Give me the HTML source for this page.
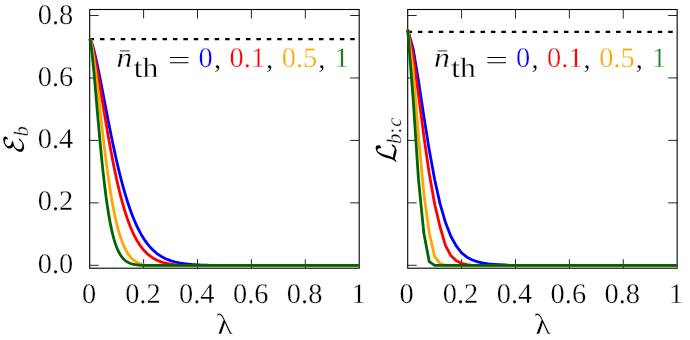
<!DOCTYPE html>
<html><head><meta charset="utf-8"><title>plot</title>
<style>
html,body{margin:0;padding:0;background:#fff;}
body{width:690px;height:340px;overflow:hidden;}
text{stroke:#fff;stroke-width:0.3px;}
svg{display:block;will-change:transform;text-rendering:geometricPrecision;font-family:"Liberation Serif",serif;}
</style></head><body>
<svg width="690" height="340" viewBox="0 0 690 340">
<rect width="690" height="340" fill="#fff"/>
<path d="M143.60 268.20v-9M143.60 9.50v9M197.50 268.20v-9M197.50 9.50v9M251.40 268.20v-9M251.40 9.50v9M305.30 268.20v-9M305.30 9.50v9M89.70 265.30h9M359.20 265.30h-9M89.70 202.85h9M359.20 202.85h-9M89.70 140.40h9M359.20 140.40h-9M89.70 77.95h9M359.20 77.95h-9M89.70 15.50h9M359.20 15.50h-9" fill="none" stroke="#000" stroke-width="0.85"/>
<rect x="89.70" y="9.50" width="269.50" height="258.70" fill="none" stroke="#000" stroke-width="1.1"/>
<g fill="none" stroke-width="2.8" stroke-linejoin="round">
<path d="M89.50 39.20 H358.70" stroke="#000" stroke-width="2.3" stroke-dasharray="4.5 5.93"/>
<path d="M89.70 38.90 L90.37 39.71 L91.05 41.12 L91.72 42.90 L92.39 44.95 L93.07 47.23 L93.74 49.70 L94.42 52.34 L95.09 55.11 L95.76 58.02 L96.44 61.03 L97.11 64.13 L97.78 67.32 L98.46 70.57 L99.13 73.89 L99.81 77.25 L100.48 80.66 L101.15 84.11 L101.83 87.58 L102.50 91.07 L103.18 94.57 L103.85 98.08 L104.52 101.60 L105.20 105.11 L105.87 108.61 L106.54 112.11 L107.22 115.59 L107.89 119.04 L108.56 122.48 L109.24 125.89 L109.91 129.27 L110.59 132.62 L111.26 135.93 L111.93 139.21 L112.61 142.45 L113.28 145.65 L113.95 148.80 L114.63 151.91 L115.30 154.98 L115.98 157.99 L116.65 160.96 L117.32 163.88 L118.00 166.75 L118.67 169.57 L119.34 172.34 L120.02 175.05 L120.69 177.71 L121.37 180.32 L122.04 182.88 L122.71 185.38 L123.39 187.83 L124.06 190.23 L124.74 192.57 L125.41 194.86 L126.08 197.10 L126.76 199.28 L127.43 201.41 L128.10 203.49 L128.78 205.52 L129.45 207.50 L130.12 209.42 L130.80 211.30 L131.47 213.13 L132.15 214.90 L132.82 216.64 L133.49 218.32 L134.17 219.95 L134.84 221.54 L135.52 223.09 L136.19 224.59 L136.86 226.05 L137.54 227.46 L138.21 228.83 L138.88 230.17 L139.56 231.46 L140.23 232.71 L140.91 233.92 L141.58 235.10 L142.25 236.23 L142.93 237.33 L143.60 238.40 L144.27 239.43 L144.95 240.43 L145.62 241.39 L146.30 242.33 L146.97 243.23 L147.64 244.10 L148.32 244.94 L148.99 245.76 L149.66 246.54 L150.34 247.30 L151.01 248.03 L151.69 248.73 L152.36 249.41 L153.03 250.07 L153.71 250.70 L154.38 251.31 L155.05 251.90 L155.73 252.46 L156.40 253.01 L157.07 253.53 L157.75 254.03 L158.42 254.52 L159.10 254.99 L159.77 255.44 L160.44 255.87 L161.12 256.28 L161.79 256.68 L162.47 257.06 L163.14 257.43 L163.81 257.79 L164.49 258.13 L165.16 258.45 L165.83 258.77 L166.51 259.07 L167.18 259.35 L167.86 259.63 L168.53 259.90 L169.20 260.15 L169.88 260.39 L170.55 260.63 L171.22 260.85 L171.90 261.07 L172.57 261.27 L173.25 261.47 L173.92 261.66 L174.59 261.84 L175.27 262.01 L175.94 262.18 L176.61 262.33 L177.29 262.48 L177.96 262.63 L178.63 262.77 L179.31 262.90 L179.98 263.03 L180.66 263.15 L181.33 263.26 L182.00 263.37 L182.68 263.48 L183.35 263.58 L184.03 263.67 L184.70 263.76 L185.37 263.85 L186.05 263.93 L186.72 264.01 L187.39 264.09 L188.07 264.16 L188.74 264.23 L189.42 264.30 L190.09 264.36 L190.76 264.42 L191.44 264.48 L192.11 264.53 L192.78 264.58 L193.46 264.63 L194.13 264.68 L194.81 264.72 L195.48 264.76 L196.15 264.80 L196.83 264.84 L197.50 264.88 L198.17 264.91 L198.85 264.95 L199.52 264.98 L200.19 265.01 L200.87 265.04 L201.54 265.06 L202.22 265.09 L202.89 265.11 L203.56 265.14 L204.24 265.16 L204.91 265.18 L205.59 265.20 L206.26 265.22 L206.93 265.23 L207.61 265.25 L208.28 265.27 L208.95 265.28 L209.63 265.30 L210.30 265.30 L358.80 265.30" stroke="#0000ff"/>
<path d="M89.70 38.90 L90.37 39.91 L91.05 41.67 L91.72 43.87 L92.39 46.42 L93.07 49.24 L93.74 52.29 L94.42 55.54 L95.09 58.95 L95.76 62.50 L96.44 66.17 L97.11 69.94 L97.78 73.80 L98.46 77.72 L99.13 81.70 L99.81 85.73 L100.48 89.79 L101.15 93.86 L101.83 97.96 L102.50 102.05 L103.18 106.15 L103.85 110.23 L104.52 114.29 L105.20 118.33 L105.87 122.34 L106.54 126.32 L107.22 130.25 L107.89 134.14 L108.56 137.99 L109.24 141.78 L109.91 145.51 L110.59 149.19 L111.26 152.81 L111.93 156.37 L112.61 159.86 L113.28 163.29 L113.95 166.65 L114.63 169.94 L115.30 173.16 L115.98 176.30 L116.65 179.38 L117.32 182.39 L118.00 185.32 L118.67 188.18 L119.34 190.97 L120.02 193.68 L120.69 196.33 L121.37 198.90 L122.04 201.40 L122.71 203.83 L123.39 206.19 L124.06 208.49 L124.74 210.71 L125.41 212.86 L126.08 214.95 L126.76 216.98 L127.43 218.94 L128.10 220.84 L128.78 222.67 L129.45 224.44 L130.12 226.16 L130.80 227.82 L131.47 229.41 L132.15 230.96 L132.82 232.45 L133.49 233.88 L134.17 235.27 L134.84 236.60 L135.52 237.88 L136.19 239.12 L136.86 240.31 L137.54 241.46 L138.21 242.56 L138.88 243.62 L139.56 244.63 L140.23 245.61 L140.91 246.55 L141.58 247.45 L142.25 248.31 L142.93 249.14 L143.60 249.93 L144.27 250.69 L144.95 251.42 L145.62 252.12 L146.30 252.79 L146.97 253.43 L147.64 254.04 L148.32 254.63 L148.99 255.19 L149.66 255.72 L150.34 256.23 L151.01 256.72 L151.69 257.19 L152.36 257.64 L153.03 258.06 L153.71 258.47 L154.38 258.85 L155.05 259.22 L155.73 259.58 L156.40 259.91 L157.07 260.23 L157.75 260.54 L158.42 260.82 L159.10 261.10 L159.77 261.36 L160.44 261.61 L161.12 261.85 L161.79 262.08 L162.47 262.29 L163.14 262.49 L163.81 262.69 L164.49 262.87 L165.16 263.05 L165.83 263.21 L166.51 263.37 L167.18 263.52 L167.86 263.66 L168.53 263.80 L169.20 263.92 L169.88 264.04 L170.55 264.16 L171.22 264.27 L171.90 264.37 L172.57 264.47 L173.25 264.56 L173.92 264.65 L174.59 264.73 L175.27 264.81 L175.94 264.88 L176.61 264.95 L177.29 265.02 L177.96 265.08 L178.63 265.14 L179.31 265.19 L179.98 265.24 L180.66 265.29 L181.33 265.30 L358.80 265.30" stroke="#ff0000"/>
<path d="M89.70 38.90 L90.37 40.13 L91.05 42.49 L91.72 45.59 L92.39 49.27 L93.07 53.43 L93.74 57.98 L94.42 62.86 L95.09 68.02 L95.76 73.40 L96.44 78.97 L97.11 84.67 L97.78 90.49 L98.46 96.38 L99.13 102.32 L99.81 108.27 L100.48 114.22 L101.15 120.15 L101.83 126.03 L102.50 131.85 L103.18 137.58 L103.85 143.23 L104.52 148.76 L105.20 154.18 L105.87 159.48 L106.54 164.64 L107.22 169.65 L107.89 174.52 L108.56 179.24 L109.24 183.80 L109.91 188.21 L110.59 192.45 L111.26 196.54 L111.93 200.47 L112.61 204.23 L113.28 207.84 L113.95 211.29 L114.63 214.59 L115.30 217.73 L115.98 220.73 L116.65 223.58 L117.32 226.29 L118.00 228.86 L118.67 231.29 L119.34 233.60 L120.02 235.78 L120.69 237.84 L121.37 239.79 L122.04 241.62 L122.71 243.35 L123.39 244.97 L124.06 246.50 L124.74 247.93 L125.41 249.28 L126.08 250.53 L126.76 251.71 L127.43 252.81 L128.10 253.84 L128.78 254.80 L129.45 255.69 L130.12 256.53 L130.80 257.30 L131.47 258.02 L132.15 258.69 L132.82 259.31 L133.49 259.89 L134.17 260.42 L134.84 260.92 L135.52 261.37 L136.19 261.80 L136.86 262.19 L137.54 262.55 L138.21 262.88 L138.88 263.18 L139.56 263.47 L140.23 263.72 L140.91 263.96 L141.58 264.18 L142.25 264.38 L142.93 264.56 L143.60 264.73 L144.27 264.89 L144.95 265.03 L145.62 265.16 L146.30 265.27 L146.97 265.30 L358.80 265.30" stroke="#ffa500"/>
<path d="M89.70 38.90 L90.37 41.24 L91.05 45.40 L91.72 50.64 L92.39 56.66 L93.07 63.26 L93.74 70.31 L94.42 77.67 L95.09 85.26 L95.76 92.99 L96.44 100.80 L97.11 108.61 L97.78 116.39 L98.46 124.07 L99.13 131.64 L99.81 139.04 L100.48 146.26 L101.15 153.28 L101.83 160.07 L102.50 166.61 L103.18 172.91 L103.85 178.94 L104.52 184.72 L105.20 190.22 L105.87 195.45 L106.54 200.42 L107.22 205.13 L107.89 209.57 L108.56 213.76 L109.24 217.70 L109.91 221.40 L110.59 224.87 L111.26 228.12 L111.93 231.15 L112.61 233.98 L113.28 236.61 L113.95 239.05 L114.63 241.32 L115.30 243.42 L115.98 245.36 L116.65 247.15 L117.32 248.81 L118.00 250.33 L118.67 251.73 L119.34 253.01 L120.02 254.19 L120.69 255.27 L121.37 256.26 L122.04 257.16 L122.71 257.99 L123.39 258.74 L124.06 259.42 L124.74 260.04 L125.41 260.60 L126.08 261.11 L126.76 261.58 L127.43 261.99 L128.10 262.37 L128.78 262.71 L129.45 263.02 L130.12 263.30 L130.80 263.55 L131.47 263.77 L132.15 263.97 L132.82 264.15 L133.49 264.32 L134.17 264.46 L134.84 264.59 L135.52 264.71 L136.19 264.81 L136.86 264.90 L137.54 264.98 L138.21 265.06 L138.88 265.12 L139.56 265.18 L140.23 265.23 L140.91 265.28 L141.58 265.30 L358.80 265.30" stroke="#006400"/>
</g>
<path d="M461.59 268.20v-9M461.59 9.50v9M515.48 268.20v-9M515.48 9.50v9M569.37 268.20v-9M569.37 9.50v9M623.26 268.20v-9M623.26 9.50v9M407.70 265.30h9M677.15 265.30h-9M407.70 202.85h9M677.15 202.85h-9M407.70 140.40h9M677.15 140.40h-9M407.70 77.95h9M677.15 77.95h-9M407.70 15.50h9M677.15 15.50h-9" fill="none" stroke="#000" stroke-width="0.85"/>
<rect x="407.70" y="9.50" width="269.45" height="258.70" fill="none" stroke="#000" stroke-width="1.1"/>
<g fill="none" stroke-width="2.8" stroke-linejoin="round">
<path d="M407.50 31.85 H676.65" stroke="#000" stroke-width="2.3" stroke-dasharray="4.5 5.93"/>
<path d="M407.70 29.60 L413.09 48.58 L418.48 80.85 L423.87 116.34 L429.26 150.11 L434.64 179.56 L440.03 203.64 L445.42 222.35 L450.81 236.28 L456.20 245.91 L461.59 252.90 L466.98 257.21 L472.37 259.99 L477.76 261.90 L483.15 263.11 L488.53 263.99 L493.92 264.39 L499.31 264.71 L504.70 264.99 L510.09 265.30 L676.75 265.30" stroke="#0000ff"/>
<path d="M407.70 29.60 L413.09 54.36 L418.48 94.57 L423.87 136.42 L429.26 173.74 L434.64 203.96 L440.03 226.75 L445.42 245.32 L450.81 255.59 L456.20 260.71 L461.59 263.30 L466.98 264.61 L472.37 265.30 L676.75 265.30" stroke="#ff0000"/>
<path d="M407.70 29.60 L413.09 70.04 L418.48 135.86 L423.87 193.85 L429.26 233.04 L434.64 256.59 L440.03 263.30 L445.42 265.30 L676.75 265.30" stroke="#ffa500"/>
<path d="M407.70 29.60 L413.09 98.20 L418.48 179.44 L423.87 233.60 L429.26 261.66 L434.64 265.30 L676.75 265.30" stroke="#006400"/>
</g>
<g font-size="28.4" fill="#000">
<text x="73.2" y="272.58" text-anchor="end">0.0</text>
<text x="73.2" y="210.41" text-anchor="end">0.2</text>
<text x="73.2" y="148.24" text-anchor="end">0.4</text>
<text x="73.2" y="86.07" text-anchor="end">0.6</text>
<text x="73.2" y="23.90" text-anchor="end">0.8</text>
<text x="89.00" y="303.4" text-anchor="middle">0</text>
<text x="142.90" y="303.4" text-anchor="middle">0.2</text>
<text x="196.80" y="303.4" text-anchor="middle">0.4</text>
<text x="250.70" y="303.4" text-anchor="middle">0.6</text>
<text x="304.60" y="303.4" text-anchor="middle">0.8</text>
<text x="358.50" y="303.4" text-anchor="middle">1</text>
<text x="406.70" y="303.4" text-anchor="middle">0</text>
<text x="460.59" y="303.4" text-anchor="middle">0.2</text>
<text x="514.48" y="303.4" text-anchor="middle">0.4</text>
<text x="568.37" y="303.4" text-anchor="middle">0.6</text>
<text x="622.26" y="303.4" text-anchor="middle">0.8</text>
<text x="676.15" y="303.4" text-anchor="middle">1</text>
</g>
<g transform="translate(0.00 0.00)" font-size="28.4">
<text transform="translate(116.4 67) scale(1.12 1)" font-style="italic" fill="#000">n</text>
<path d="M120.1 50.9H129.6" stroke="#000" stroke-width="0.8" fill="none"/>
<text transform="translate(133.7 76.6) scale(1.14 1)" font-size="27.8" fill="#000">th</text>
<path d="M169.9 57.5H188.4M169.9 62.65H188.4" stroke="#000" stroke-width="1.05" fill="none"/>
<text x="198.6" y="67.4" fill="#0000ff">0</text>
<text x="214.0" y="68.2" fill="#000">,</text>
<text x="229.6" y="67.4" fill="#ff0000">0.1</text>
<text x="266.0" y="68.2" fill="#000">,</text>
<text x="281.7" y="67.4" fill="#ffa500">0.5</text>
<text x="318.2" y="68.2" fill="#000">,</text>
<text x="334.4" y="67.4" fill="#267a1e">1</text>
</g>
<g transform="translate(317.50 0.00)" font-size="28.4">
<text transform="translate(116.4 67) scale(1.12 1)" font-style="italic" fill="#000">n</text>
<path d="M120.1 50.9H129.6" stroke="#000" stroke-width="0.8" fill="none"/>
<text transform="translate(133.7 76.6) scale(1.14 1)" font-size="27.8" fill="#000">th</text>
<path d="M169.9 57.5H188.4M169.9 62.65H188.4" stroke="#000" stroke-width="1.05" fill="none"/>
<text x="198.6" y="67.4" fill="#0000ff">0</text>
<text x="214.0" y="68.2" fill="#000">,</text>
<text x="229.6" y="67.4" fill="#ff0000">0.1</text>
<text x="266.0" y="68.2" fill="#000">,</text>
<text x="281.7" y="67.4" fill="#ffa500">0.5</text>
<text x="318.2" y="68.2" fill="#000">,</text>
<text x="334.4" y="67.4" fill="#267a1e">1</text>
</g>
<text transform="translate(225.25 333.6) skewX(7) scale(1.08 1)" font-size="29" text-anchor="middle" fill="#000">λ</text>
<text transform="translate(543.22 333.6) skewX(7) scale(1.08 1)" font-size="29" text-anchor="middle" fill="#000">λ</text>
<g transform="translate(23.5 152.7) rotate(-90)">
<path transform="scale(0.014014 -0.014014)" d="M59 209Q59 315 124 420Q188 526 286 610Q385 693 481 741Q398 774 348 831Q297 888 297 971Q297 1070 357 1156Q417 1242 514 1307Q611 1372 720 1408Q830 1444 920 1444H932Q1020 1444 1088 1413Q1155 1382 1155 1307Q1155 1257 1128 1212Q1101 1167 1057 1138Q1013 1108 965 1104H954Q950 1106 945 1110Q940 1114 940 1120Q940 1126 942 1130Q952 1148 958 1162Q965 1176 969 1190Q973 1203 973 1217Q973 1278 916 1300Q858 1323 784 1323Q706 1323 635 1291Q564 1259 522 1200Q479 1140 479 1059Q479 941 589 885Q699 829 827 829Q842 822 842 813Q842 781 782 747Q723 713 686 709Q508 709 379 586Q322 525 282 447Q242 369 242 299Q242 225 288 174Q334 124 404 100Q473 76 545 76Q636 76 692 108Q749 140 810 209Q871 278 904 306Q938 335 997 340H1008Q1022 333 1022 324Q1022 317 1014 301Q949 206 851 128Q753 49 637 2Q521 -45 410 -45H397Q318 -45 239 -16Q160 12 110 70Q59 127 59 209Z" fill="#000"/>
<text x="16.2" y="4.6" font-size="20.6" font-style="italic" fill="#000">b</text>
</g>
<g transform="translate(395.9 163.0) rotate(-90)">
<path transform="scale(0.014014 -0.014014)" d="M76 -45Q63 -45 63 -31Q63 -23 70 -12Q85 12 115 42Q145 71 158 88Q210 163 240 221Q292 329 330 469Q386 692 432 831Q477 970 551 1094Q609 1190 694 1270Q779 1349 882 1396Q986 1444 1094 1444H1106Q1159 1444 1195 1418Q1231 1391 1250 1346Q1268 1302 1268 1251Q1268 1173 1243 1143Q1172 1066 1075 1053H1063Q1051 1053 1051 1067Q1051 1069 1056 1098Q1061 1127 1061 1147Q1061 1213 1028 1262Q995 1311 930 1311Q854 1311 854 1298Q798 1259 746 1168Q695 1078 656 972Q618 867 588 760Q558 654 535 561Q510 460 470 368Q431 275 377 193Q401 201 436 201H449Q520 201 591 186Q662 172 761 144Q860 116 926 102Q992 89 1065 88Q1087 88 1101 108Q1115 128 1128 164Q1142 199 1151 211Q1182 245 1227 270Q1272 295 1317 301H1329Q1335 301 1339 297Q1343 293 1343 287Q1343 287 1341 281Q1321 201 1247 124Q1173 46 1078 0Q984 -45 905 -45H893Q822 -45 754 -32Q686 -19 587 9Q488 37 418 52Q347 67 276 68Q185 -32 88 -45Z" fill="#000"/>
<text x="19.0" y="4.7" font-size="20.6" font-style="italic" fill="#000">b</text>
<text x="29.6" y="4.7" font-size="20.6" fill="#000">:</text>
<text x="36.2" y="4.7" font-size="20.6" font-style="italic" fill="#000">c</text>
</g>
</svg>
</body></html>
